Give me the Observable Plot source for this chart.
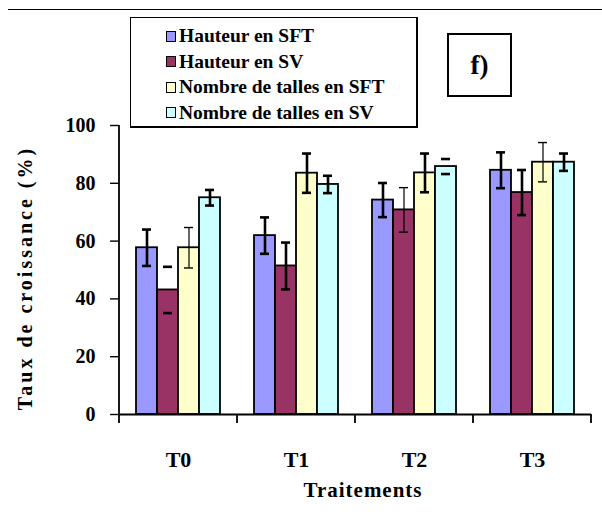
<!DOCTYPE html>
<html>
<head>
<meta charset="utf-8">
<script src="https://cdn.jsdelivr.net/npm/d3@7"></script>
<script src="https://cdn.jsdelivr.net/npm/@observablehq/plot@0.6"></script>
<style>
  html, body { margin: 0; padding: 0; background: #fff; }
  #wrap { position: relative; width: 602px; height: 512px; font-family: "Liberation Serif", serif; }
  #wrap svg { position: absolute; left: 0; top: 0; }
  .topline { position: absolute; left: 8px; top: 9px; width: 594px; height: 1px; background: #000; }
  .legend { position: absolute; left: 130px; top: 17px; width: 288px; height: 111px; border: 2px solid #000; border-top-width: 1px; border-left-width: 1px; background: #fff; box-sizing: border-box; font-family: "Liberation Serif", serif; }
  .legend .row { position: absolute; left: 35px; height: 24px; display: flex; align-items: center; font-weight: bold; font-size: 19.5px; line-height: 24px; white-space: nowrap; font-family: "Liberation Serif", serif; }
  .legend .sw { width: 8px; height: 9px; border: 1px solid #000; margin-right: 3px; }
  .tag { position: absolute; left: 447px; top: 33px; width: 65px; height: 64px; border: 2px solid #000; box-sizing: border-box; display: flex; align-items: center; justify-content: center; font-weight: bold; font-size: 27px; font-family: "Liberation Serif", serif; }
  .ylab { position: absolute; left: 25px; top: 278px; transform: translate(-50%, -50%) rotate(-90deg); font-weight: bold; font-size: 20px; letter-spacing: 3px; white-space: nowrap; font-family: "Liberation Serif", serif; }
  .xlab { position: absolute; left: 363px; top: 490px; transform: translate(-50%, -50%); font-weight: bold; font-size: 21px; letter-spacing: 1px; white-space: nowrap; font-family: "Liberation Serif", serif; }
</style>
</head>
<body>
<div id="wrap"></div>
<script>
// ---- data ----
const categories = ["T0", "T1", "T2", "T3"];
const series = ["Hauteur en SFT", "Hauteur en SV", "Nombre de talles en SFT", "Nombre de talles en SV"];
const hauteurSFT = [57.7, 61.9, 74.2, 84.5];
const hauteurSV = [43.1, 51.4, 70.8, 76.8];
const tallesSFT = [57.7, 83.5, 83.6, 87.3];
const tallesSV = [75.0, 79.6, 85.8, 87.3];
const errHauteurSFT = [6.3, 6.3, 5.9, 6.2];
const errHauteurSV = [8.0, 8.1, 7.7, 7.8];
const errTallesSFT = [7.0, 6.8, 6.7, 6.8];
const errTallesSV = [2.7, 3.0, 2.6, 3.0];
const yTicks = [0, 20, 40, 60, 80, 100];
const colors = ["#9999FF", "#993366", "#FFFFCC", "#CCFFFF"];
const xTitle = "Traitements";
const yTitle = "Taux de croissance (%)";
const panelTag = "f)";

// ---- table ----
const values = [hauteurSFT, hauteurSV, tallesSFT, tallesSV];
const errors = [errHauteurSFT, errHauteurSV, errTallesSFT, errTallesSV];
const data = [];
categories.forEach((c, i) => series.forEach((s, j) => {
  data.push({cat: c, series: s, value: values[j][i], err: errors[j][i]});
}));

// style choices (appearance only)
const thin = new Set(["T0|Nombre de talles en SFT", "T2|Hauteur en SV", "T3|Nombre de talles en SFT"]);
const capsOnly = new Set(["T0|Hauteur en SV", "T2|Nombre de talles en SV"]);
const key = d => d.cat + "|" + d.series;
const thick = data.filter(d => !thin.has(key(d)));
const thinD = data.filter(d => thin.has(key(d)));
const stemThick = thick.filter(d => !capsOnly.has(key(d)));

const plot = Plot.plot({
  width: 602,
  height: 512,
  marginLeft: 117,
  marginRight: 10,
  marginTop: 125,
  marginBottom: 98,
  style: {fontFamily: "'Liberation Serif', serif", fontSize: "20px", background: "transparent"},
  fx: {domain: categories, padding: 0, label: null},
  x: {domain: series, paddingInner: 0, paddingOuter: 0.76, axis: null},
  y: {domain: [0, 100], axis: null},
  color: {domain: series, range: colors},
  marks: [
    Plot.barY(data, {fx: "cat", x: "series", y: "value", fill: "series", stroke: "#000", strokeWidth: 1.8}),
    Plot.ruleX(stemThick, {fx: "cat", x: "series", y1: d => d.value - d.err, y2: d => d.value + d.err, stroke: "#000", strokeWidth: 2.6}),
    Plot.ruleX(thinD, {fx: "cat", x: "series", y1: d => d.value - d.err, y2: d => d.value + d.err, stroke: "#000", strokeWidth: 1.2}),
    Plot.tickY(thick, {fx: "cat", x: "series", y: d => d.value + d.err, stroke: "#000", strokeWidth: 2.6, insetLeft: 6, insetRight: 6}),
    Plot.tickY(thick, {fx: "cat", x: "series", y: d => d.value - d.err, stroke: "#000", strokeWidth: 2.6, insetLeft: 6, insetRight: 6}),
    Plot.tickY(thinD, {fx: "cat", x: "series", y: d => d.value + d.err, stroke: "#000", strokeWidth: 1.4, insetLeft: 6, insetRight: 6}),
    Plot.tickY(thinD, {fx: "cat", x: "series", y: d => d.value - d.err, stroke: "#000", strokeWidth: 1.4, insetLeft: 6, insetRight: 6}),
    Plot.ruleY([0], {stroke: "#000", strokeWidth: 1.8}),
    Plot.axisY({ticks: yTicks, tickSize: 9, tickPadding: 15, label: null, stroke: "#000", strokeWidth: 1.4, fill: "#000", fontWeight: "bold", fontSize: 20}),
    Plot.axisFx({anchor: "bottom", tickSize: 0, tickPadding: 37, label: null, fill: "#000", fontWeight: "bold", fontSize: 22, letterSpacing: "2px"})
  ]
});

// axis line and category boundary ticks from the library's scales
const fxScale = plot.scale("fx");
const yScale = plot.scale("y");
const svg = d3.select(plot);
const y0 = yScale.apply(0), y100 = yScale.apply(100);
const bounds = categories.map(c => fxScale.apply(c)).concat([fxScale.apply(categories[categories.length - 1]) + fxScale.bandwidth]);
svg.append("line").attr("x1", bounds[0]).attr("x2", bounds[0]).attr("y1", y100).attr("y2", y0).attr("stroke", "#000").attr("stroke-width", 1.8);
bounds.forEach(b => svg.append("line").attr("x1", b).attr("x2", b).attr("y1", y0).attr("y2", y0 + 9).attr("stroke", "#000").attr("stroke-width", 1.8));

const wrap = document.getElementById("wrap");
wrap.appendChild(plot);

const topLine = document.createElement("div"); topLine.className = "topline"; wrap.appendChild(topLine);

const legendBox = document.createElement("div"); legendBox.className = "legend";
series.forEach((s, j) => {
  const row = document.createElement("div"); row.className = "row";
  row.style.top = (6 + j * 25.5) + "px";
  const sw = document.createElement("span"); sw.className = "sw"; sw.style.background = colors[j];
  row.appendChild(sw);
  row.appendChild(document.createTextNode(s));
  legendBox.appendChild(row);
});
wrap.appendChild(legendBox);

const tag = document.createElement("div"); tag.className = "tag"; tag.textContent = panelTag; wrap.appendChild(tag);
const yl = document.createElement("div"); yl.className = "ylab"; yl.textContent = yTitle; wrap.appendChild(yl);
const xl = document.createElement("div"); xl.className = "xlab"; xl.textContent = xTitle; wrap.appendChild(xl);
</script>
</body>
</html>
